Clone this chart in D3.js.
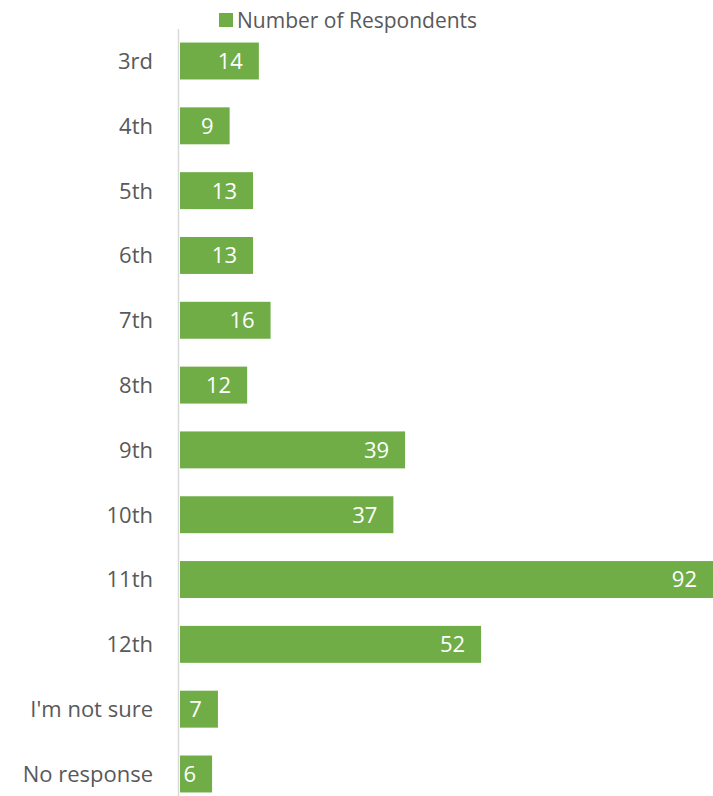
<!DOCTYPE html>
<html>
<head>
<meta charset="utf-8">
<script src="https://cdn.jsdelivr.net/npm/d3@7"></script>
<style>
  body { margin: 0; background: #fff; }
  svg { display: block; font-family: "Open Sans", Lato, sans-serif; }
</style>
</head>
<body>
<svg id="chart" width="713" height="796"></svg>
<script>
// grades and respondent counts
const grades = ["3rd", "4th", "5th", "6th", "7th", "8th", "9th", "10th", "11th", "12th", "I'm not sure", "No response"];
const counts = [14, 9, 13, 13, 16, 12, 39, 37, 92, 52, 7, 6];
const seriesName = "Number of Respondents";

const svg = d3.select("#chart");
const green = "#70ad47";

// 92 runs a bit past the right edge in the original
const x = d3.scaleLinear().domain([0, 92]).range([177, 715]);
const y = d3.scaleBand().domain(grades).range([28.6, 806.4])
  .paddingInner(0.43).paddingOuter(0.215);
const gap = 3; // small gap between axis line and bars

// axis line
svg.append("line")
  .attr("x1", 178.5).attr("x2", 178.5)
  .attr("y1", 29).attr("y2", 796)
  .attr("stroke", "#d9d9d9").attr("stroke-width", 1.5);

// bars
svg.append("g")
  .selectAll("rect")
  .data(counts)
  .enter()
  .append("rect")
  .attr("x", x(0) + gap)
  .attr("y", (d, i) => y(grades[i]))
  .attr("width", d => x(d) - x(0) - gap)
  .attr("height", y.bandwidth())
  .attr("fill", green);

// value labels, inside end
svg.append("g")
  .selectAll("text")
  .data(counts)
  .enter()
  .append("text")
  .attr("x", d => Math.min(x(d), 713) - 16)
  .attr("y", (d, i) => y(grades[i]) + y.bandwidth() / 2)
  .attr("dy", "0.36em")
  .attr("text-anchor", "end")
  .attr("fill", "#fff")
  .attr("font-size", 22)
  .text(d => d);

// category labels
svg.append("g")
  .selectAll("text")
  .data(grades)
  .enter()
  .append("text")
  .attr("x", 153)
  .attr("y", d => y(d) + y.bandwidth() / 2)
  .attr("dy", "0.36em")
  .attr("text-anchor", "end")
  .attr("fill", "#595959")
  .attr("font-size", 22)
  .text(d => d);

// legend
const legend = svg.append("g");
legend.append("rect")
  .attr("x", 219).attr("y", 13)
  .attr("width", 14).attr("height", 14)
  .attr("fill", green);
legend.append("text")
  .attr("x", 237).attr("y", 20)
  .attr("dy", "0.36em")
  .attr("fill", "#595959")
  .attr("font-size", 21)
  .text(seriesName);
</script>
</body>
</html>
